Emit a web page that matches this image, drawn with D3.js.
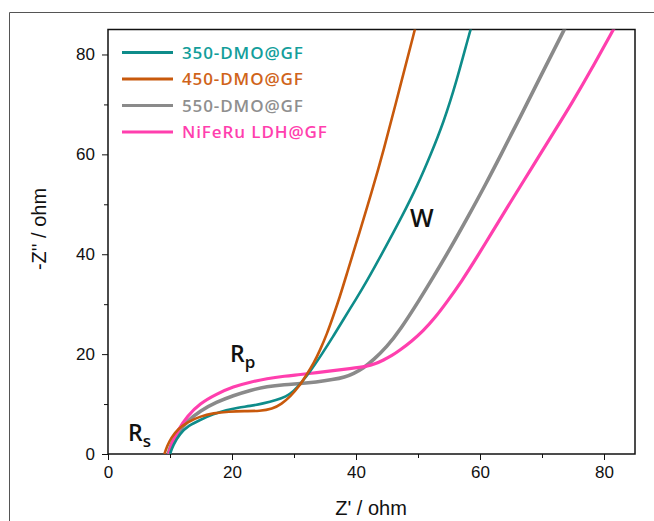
<!DOCTYPE html>
<meta charset="utf-8">
<style>
body { margin: 0; background: #fff; }
svg { display: block; }
.tick text { font-family: "Liberation Sans", Arial, sans-serif; font-size: 17px; fill: #111; }
.axis path, .axis line { stroke: #111; }
.legend text { font-family: "Open Sans", "Noto Sans", sans-serif; font-weight: 600; font-size: 17px; }
.note { font-family: "Open Sans", "Noto Sans", sans-serif; font-weight: 600; fill: #111; }
</style>
<body>
<div id="chart"></div>
<script src="https://d3js.org/d3.v7.min.js"></script>
<script>

// series names and colours
var names = ["350-DMO@GF", "450-DMO@GF", "550-DMO@GF", "NiFeRu LDH@GF"];
var lineColors = ["#0e8c8a", "#c8590c", "#8a8a8a", "#ff3fae"];
var textColors = ["#139e9b", "#d0641a", "#8f8f8f", "#ff3fae"];
var lineWidths = [2.6, 2.6, 3.6, 3.2];

// Z' values (ohm)
var x350 = [10.0, 10.5, 11.6, 13.0, 14.8, 17.0, 19.1, 21.0, 22.9, 25.0, 27.2, 28.7, 29.9, 31.2, 32.6, 34.5, 36.3, 38.0, 40.0, 41.7, 44.5, 47.4, 50.0, 52.0, 54.1, 56.2, 58.4, 59.0];
var x450 = [9.1, 9.5, 10.2, 11.3, 12.8, 14.8, 17.0, 19.5, 22.0, 24.5, 26.5, 28.0, 29.4, 30.8, 32.0, 33.2, 34.2, 35.3, 36.3, 37.4, 38.5, 40.6, 42.5, 44.4, 47.1, 49.5, 50.0];
var x550 = [9.7, 10.2, 11.2, 12.8, 14.8, 17.5, 20.2, 23.0, 25.6, 28.5, 31.0, 33.5, 36.3, 38.2, 39.6, 41.2, 42.8, 45.0, 47.1, 50.3, 52.5, 55.0, 58.2, 61.0, 63.2, 66.5, 70.0, 73.6, 74.2];
var xLdh = [9.8, 10.3, 11.3, 12.8, 14.8, 17.5, 20.2, 23.0, 25.6, 28.5, 31.0, 33.7, 36.3, 39.0, 41.7, 43.2, 44.4, 45.8, 47.1, 49.0, 50.8, 52.7, 54.7, 57.0, 59.6, 62.0, 64.5, 67.0, 69.7, 72.2, 74.8, 78.2, 81.5, 82.0];

// -Z'' values (ohm)
var y350 = [0, 1.8, 4.1, 5.7, 6.8, 8.0, 8.8, 9.3, 9.6, 10.1, 10.8, 11.5, 12.5, 14.3, 16.5, 20.0, 23.5, 27.0, 31.0, 34.5, 40.8, 47.5, 54.0, 59.8, 66.3, 74.5, 84.8, 87.0];
var y450 = [0, 1.5, 3.3, 5.0, 6.4, 7.5, 8.2, 8.5, 8.6, 8.6, 9.0, 10.0, 11.5, 13.5, 15.8, 18.2, 20.8, 24.0, 27.5, 31.5, 36.0, 44.5, 52.3, 60.5, 73.5, 85.0, 87.5];
var y550 = [0, 2.0, 4.2, 6.6, 8.6, 10.4, 11.7, 12.8, 13.5, 13.9, 14.1, 14.4, 14.9, 15.4, 16.1, 17.2, 18.8, 21.5, 24.8, 31.0, 35.5, 40.7, 47.8, 54.2, 59.5, 67.5, 76.2, 85.0, 86.5];
var yLdh = [0, 2.2, 4.8, 7.6, 10.1, 12.0, 13.5, 14.4, 15.1, 15.6, 15.9, 16.3, 16.7, 17.1, 17.5, 18.1, 18.8, 19.7, 20.8, 22.6, 24.6, 27.2, 30.5, 34.5, 39.6, 44.5, 49.6, 54.6, 60.0, 65.0, 70.2, 77.5, 85.0, 86.0];

var xSeries = [x350, x450, x550, xLdh];
var ySeries = [y350, y450, y550, yLdh];

// axis ticks
var majorTicks = [0, 20, 40, 60, 80];
var minorTicks = [10, 30, 50, 70];

var W = 654, H = 521;
var margin = {top: 29.5, right: 19, bottom: 67, left: 108};
var width = W - margin.left - margin.right,
    height = H - margin.top - margin.bottom;

var x = d3.scaleLinear().domain([0, 85]).range([0, width]);
var y = d3.scaleLinear().domain([0, 85]).range([height, 0]);

var svg = d3.select("#chart").append("svg")
    .attr("width", W)
    .attr("height", H);

// outer frame of the figure (top and left edges only)
svg.append("path")
    .attr("d", "M9.5," + H + "V12.5H" + W)
    .attr("fill", "none")
    .attr("stroke", "#555")
    .attr("stroke-width", 1);

var g = svg.append("g")
    .attr("transform", "translate(" + margin.left + "," + margin.top + ")");

g.append("clipPath").attr("id", "clip")
  .append("rect").attr("width", width).attr("height", height);

// minor ticks
g.append("g")
    .attr("class", "axis")
    .attr("transform", "translate(0," + height + ")")
    .call(d3.axisBottom(x).tickValues(minorTicks).tickSize(4).tickFormat(""))
    .call(s => s.select(".domain").remove());
g.append("g")
    .attr("class", "axis")
    .call(d3.axisLeft(y).tickValues(minorTicks).tickSize(4).tickFormat(""))
    .call(s => s.select(".domain").remove());

// major ticks
g.append("g")
    .attr("class", "axis")
    .attr("transform", "translate(0," + height + ")")
    .call(d3.axisBottom(x).tickValues(majorTicks).tickSize(6).tickPadding(6))
    .call(s => s.select(".domain").remove());
g.append("g")
    .attr("class", "axis")
    .call(d3.axisLeft(y).tickValues(majorTicks).tickSize(6).tickPadding(7))
    .call(s => s.select(".domain").remove());

// plot box
g.append("rect")
    .attr("width", width)
    .attr("height", height)
    .attr("fill", "none")
    .attr("stroke", "#111")
    .attr("stroke-width", 1.5);

var line = d3.line()
    .x(d => x(d[0]))
    .y(d => y(d[1]))
    .curve(d3.curveBasis);

// draw in the stacking order of the picture
[2, 3, 0, 1].forEach(function(i) {
  var pts = xSeries[i].map((v, k) => [v, ySeries[i][k]]);
  g.append("path")
      .attr("clip-path", "url(#clip)")
      .attr("d", line(pts))
      .attr("fill", "none")
      .attr("stroke", lineColors[i])
      .attr("stroke-width", lineWidths[i])
      .attr("stroke-linejoin", "round");
});

// legend
var legend = svg.append("g").attr("class", "legend");
names.forEach(function(n, i) {
  var ly = 52.5 + i * 26.5;
  legend.append("line")
      .attr("x1", 122).attr("x2", 173)
      .attr("y1", ly).attr("y2", ly)
      .attr("stroke", lineColors[i])
      .attr("stroke-width", 3.2);
  legend.append("text")
      .attr("x", 182).attr("y", ly)
      .attr("dy", "0.36em")
      .attr("fill", textColors[i])
      .style("letter-spacing", "0.9px")
      .text(n);
});

// annotations
var rs = svg.append("text").attr("class", "note")
    .attr("x", 128).attr("y", 441).style("font-size", "23px");
rs.append("tspan").text("R");
rs.append("tspan").attr("dy", 6).style("font-size", "17px").text("s");

var rp = svg.append("text").attr("class", "note")
    .attr("x", 230).attr("y", 362).style("font-size", "23px");
rp.append("tspan").text("R");
rp.append("tspan").attr("dy", 6).style("font-size", "17px").text("p");

svg.append("text").attr("class", "note")
    .attr("x", 410).attr("y", 227)
    .style("font-size", "25px")
    .text("W");

// axis titles
svg.append("text")
    .attr("x", 371).attr("y", 515)
    .attr("text-anchor", "middle")
    .style("font-family", "'Liberation Sans', Arial, sans-serif")
    .style("font-size", "20px")
    .attr("fill", "#111")
    .text("Z' / ohm");

svg.append("text")
    .attr("transform", "translate(46,229) rotate(-90)")
    .attr("text-anchor", "middle")
    .style("font-family", "'Liberation Sans', Arial, sans-serif")
    .style("font-size", "20px")
    .attr("fill", "#111")
    .text("-Z'' / ohm");

</script>
</body>
